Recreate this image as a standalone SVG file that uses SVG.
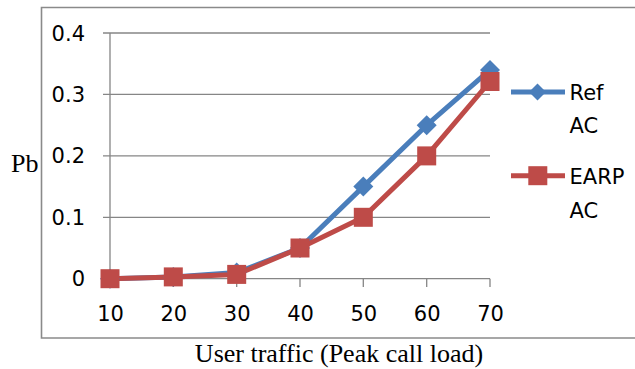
<svg xmlns="http://www.w3.org/2000/svg" xmlns:xlink="http://www.w3.org/1999/xlink" width="635" height="369" viewBox="0 0 635 369">
<style>
.grid{stroke:#868686;stroke-width:1.3;fill:none}
.frame{stroke:#8a8a8a;stroke-width:1.6;fill:none}
.tick{font-family:"DejaVu Sans",sans-serif;font-size:21px;fill:#000}
.serif{font-family:"Liberation Serif","Times New Roman",serif;font-size:26px;fill:#000}
.ref{stroke:#4A7EBB;stroke-width:5;fill:none;stroke-linejoin:round}
.earp{stroke:#BE4B48;stroke-width:5;fill:none;stroke-linejoin:round}
</style>
<defs>
<polygon id="dia" points="0,-10 10,0 0,10 -10,0" fill="#4A7EBB"/>
<rect id="sq" x="-9.5" y="-9.5" width="19" height="19" fill="#BE4B48"/>
</defs>
<rect width="635" height="369" fill="#fff"/>
<g id="frame">
<path class="frame" d="M660,7.5 H41.5 V338 H660"/>
</g>
<g id="axes">
<path class="grid" d="M103,33 H490 M103,94.4 H490 M103,155.9 H490 M103,217.3 H490 M103,278.7 H490"/>
<path class="grid" d="M110,33 V287 M173.3,278.7 V287 M236.7,278.7 V287 M300,278.7 V287 M363.3,278.7 V287 M426.7,278.7 V287 M490,278.7 V287"/>
<g class="tick" text-anchor="end">
<text x="85" y="40.5">0.4</text>
<text x="85" y="101.9">0.3</text>
<text x="85" y="163.4">0.2</text>
<text x="85" y="224.8">0.1</text>
<text x="85" y="286.2">0</text>
</g>
<g class="tick" text-anchor="middle">
<text x="110.5" y="320.5">10</text>
<text x="173.8" y="320.5">20</text>
<text x="237.2" y="320.5">30</text>
<text x="300.5" y="320.5">40</text>
<text x="363.8" y="320.5">50</text>
<text x="427.2" y="320.5">60</text>
<text x="490.5" y="320.5">70</text>
</g>
<text class="serif" x="11" y="172">Pb</text>
<text class="serif" x="339" y="362" text-anchor="middle">User traffic (Peak call load)</text>
</g>
<g id="connectors">
<polyline id="line-ref" class="ref" points="110,278.7 173.3,276.9 236.7,272.6 300,248 363.3,186.6 426.7,125.2 490,69.9"/>
<polyline id="line-earp" class="earp" points="110,278.7 173.3,276.9 236.7,274.4 300,248 363.3,217.3 426.7,155.9 490,81.5"/>
</g>
<g id="series-ref">
<use xlink:href="#dia" x="110" y="278.7"/>
<use xlink:href="#dia" x="173.3" y="276.9"/>
<use xlink:href="#dia" x="236.7" y="272.6"/>
<use xlink:href="#dia" x="300" y="248"/>
<use xlink:href="#dia" x="363.3" y="186.6"/>
<use xlink:href="#dia" x="426.7" y="125.2"/>
<use xlink:href="#dia" x="490" y="69.9"/>
</g>
<g id="series-earp">
<use xlink:href="#sq" x="110" y="278.7"/>
<use xlink:href="#sq" x="173.3" y="276.9"/>
<use xlink:href="#sq" x="236.7" y="274.4"/>
<use xlink:href="#sq" x="300" y="248"/>
<use xlink:href="#sq" x="363.3" y="217.3"/>
<use xlink:href="#sq" x="426.7" y="155.9"/>
<use xlink:href="#sq" x="490" y="81.5"/>
</g>
<g id="legend-ref">
<line class="ref" x1="511" y1="92" x2="565" y2="92"/>
<use xlink:href="#dia" x="537.5" y="92" transform="translate(537.5 92) scale(0.85) translate(-537.5 -92)"/>
<text class="tick" x="569.5" y="100">Ref</text>
<text class="tick" x="569.5" y="132.5">AC</text>
</g>
<g id="legend-earp">
<line class="earp" x1="511" y1="175.7" x2="565" y2="175.7"/>
<use xlink:href="#sq" x="537.8" y="175.7"/>
<text class="tick" x="569.5" y="184">EARP</text>
<text class="tick" x="569.5" y="217.5">AC</text>
</g>
</svg>
